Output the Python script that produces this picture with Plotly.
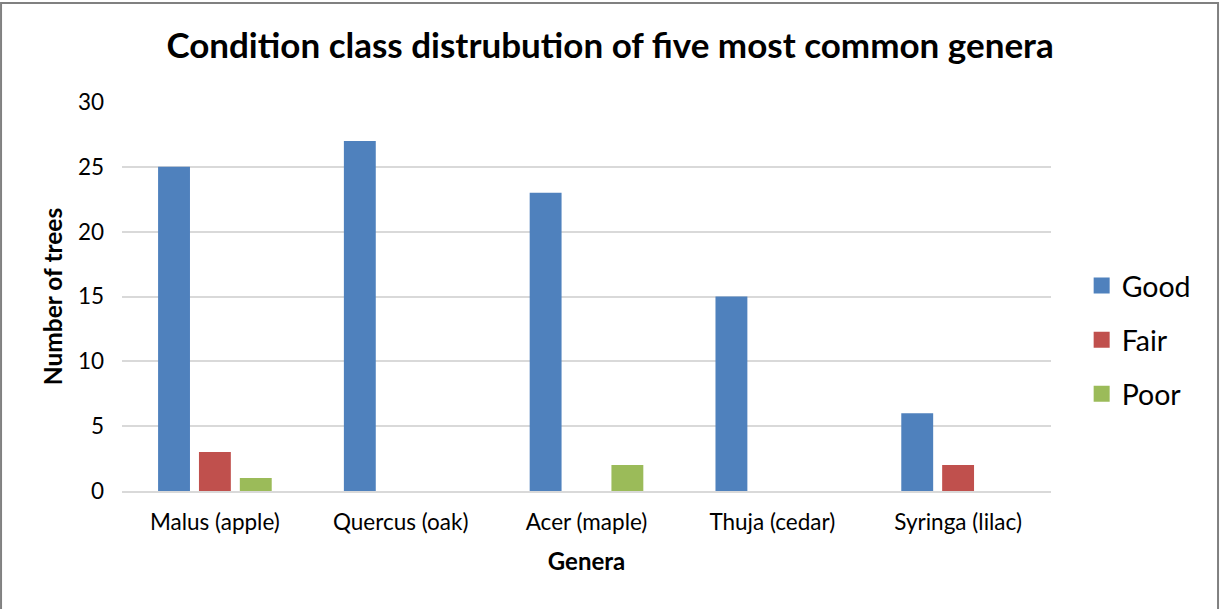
import plotly.graph_objects as go

genera = ["Malus (apple)", "Quercus (oak)", "Acer (maple)", "Thuja (cedar)", "Syringa (lilac)"]
good = [25, 27, 23, 15, 6]
fair = [3, 0, 0, 0, 2]
poor = [1, 0, 2, 0, 0]
series_names = ["Good", "Fair", "Poor"]
series_colors = ["#4F81BD", "#C0504D", "#9BBB59"]
y_ticks = [0, 5, 10, 15, 20, 25, 30]

FONT = "Lato"
fig = go.Figure()
for name, vals, col in zip(series_names, [good, fair, poor], series_colors):
    fig.add_trace(go.Bar(x=genera, y=vals, name=name, marker=dict(color=col, line=dict(width=0)),
                         legendgroup=name, showlegend=False))
for name, col in zip(series_names, series_colors):
    fig.add_trace(go.Scatter(x=[None], y=[None], mode="markers", name=name, legendgroup=name,
                             marker=dict(symbol="square", size=16, color=col)))

fig.update_layout(
    width=1225, height=609,
    paper_bgcolor="white", plot_bgcolor="white",
    margin=dict(l=122, r=174, t=102, b=118),
    barmode="group", bargap=0.34, bargroupgap=0.22,
    font=dict(family=FONT, color="black", size=22),
    title=dict(text="<b>Condition class distrubution of five most common genera</b>",
               x=0.498, xanchor="center", y=0.925, yanchor="middle",
               font=dict(family=FONT, size=35, color="black")),
    legend=dict(x=1.033, xanchor="left", y=0.388, yanchor="middle",
                font=dict(family=FONT, size=28.5, color="black"),
                tracegroupgap=14, bgcolor="rgba(0,0,0,0)"),
    xaxis=dict(showgrid=False, showline=True, linecolor="#D9D9D9", linewidth=2,
               ticks="", ticklabelstandoff=10, tickfont=dict(size=22.5),
               title=dict(text="<b>Genera</b>", font=dict(size=24), standoff=19)),
    yaxis=dict(range=[0, 30], tickvals=y_ticks, showgrid=True, gridcolor="#D9D9D9", gridwidth=1.5,
               zeroline=False, showline=False, ticks="", ticklabelstandoff=17,
               tickfont=dict(size=22.5),
               title=dict(text="<b>Number of trees</b>", font=dict(size=24.5), standoff=8)),
    shapes=[dict(type="rect", xref="paper", yref="paper", x0=-0.1302, x1=1.1798, y0=-0.4, y1=1.2545,
                 line=dict(color="#808080", width=2), layer="below")],
)
fig.write_html("out.html", config={"displayModeBar": False},
               post_script="document.body.style.margin='0';")
